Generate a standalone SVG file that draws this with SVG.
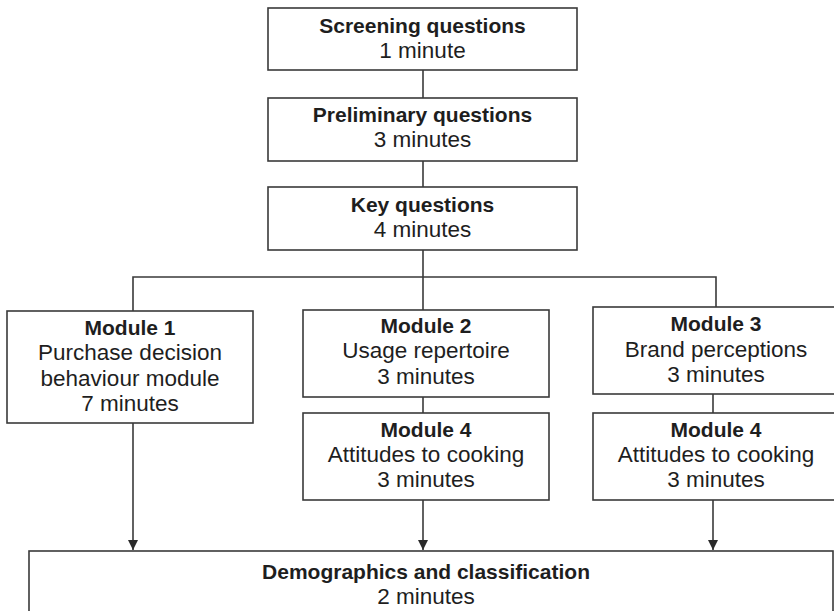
<svg xmlns="http://www.w3.org/2000/svg" width="834" height="611" viewBox="0 0 834 611">
  <defs>
    <style>
      .box { fill: #ffffff; stroke: #3a3a3a; stroke-width: 1.6; }
      .line { fill: none; stroke: #3a3a3a; stroke-width: 1.6; }
      text { font-family: "Liberation Sans", Arial, sans-serif; fill: #1e1e1e; text-anchor: middle; }
      .b { font-weight: bold; font-size: 21px; }
      .r { font-size: 22.5px; }
    </style>
    <marker id="arrow" viewBox="0 0 10 14" refX="10" refY="7" markerWidth="10" markerHeight="14" markerUnits="userSpaceOnUse" orient="auto">
      <path d="M0,2 L10,7 L0,12 Z" fill="#2a2a2a"/>
    </marker>
  </defs>
  <rect width="834" height="611" fill="#ffffff"/>

  <g id="connectors">
    <line class="line" x1="423" y1="70" x2="423" y2="98"/>
    <line class="line" x1="423" y1="161" x2="423" y2="187"/>
    <line class="line" x1="423" y1="250" x2="423" y2="277"/>
    <polyline class="line" points="133,311 133,277 716,277 716,307"/>
    <line class="line" x1="423" y1="277" x2="423" y2="310"/>
    <line class="line" x1="423" y1="397" x2="423" y2="413"/>
    <line class="line" x1="713" y1="394" x2="713" y2="413"/>
    <line class="line" x1="133" y1="423" x2="133" y2="550" marker-end="url(#arrow)"/>
    <line class="line" x1="423" y1="500" x2="423" y2="550" marker-end="url(#arrow)"/>
    <line class="line" x1="713" y1="500" x2="713" y2="550" marker-end="url(#arrow)"/>
  </g>

  <g id="screening">
    <rect class="box" x="268" y="8" width="309" height="62"/>
    <text class="b" x="422.5" y="33">Screening questions</text>
    <text class="r" x="422.5" y="58">1 minute</text>
  </g>
  <g id="preliminary">
    <rect class="box" x="268" y="98" width="309" height="63"/>
    <text class="b" x="422.5" y="122">Preliminary questions</text>
    <text class="r" x="422.5" y="147">3 minutes</text>
  </g>
  <g id="key">
    <rect class="box" x="268" y="187" width="309" height="63"/>
    <text class="b" x="422.5" y="212">Key questions</text>
    <text class="r" x="422.5" y="237">4 minutes</text>
  </g>

  <g id="module1">
    <rect class="box" x="7" y="311" width="246" height="112"/>
    <text class="b" x="130" y="335">Module 1</text>
    <text class="r" x="130" y="360">Purchase decision</text>
    <text class="r" x="130" y="386">behaviour module</text>
    <text class="r" x="130" y="411">7 minutes</text>
  </g>
  <g id="module2">
    <rect class="box" x="303" y="310" width="246" height="87"/>
    <text class="b" x="426" y="333">Module 2</text>
    <text class="r" x="426" y="358">Usage repertoire</text>
    <text class="r" x="426" y="384">3 minutes</text>
  </g>
  <g id="module4a">
    <rect class="box" x="303" y="413" width="246" height="87"/>
    <text class="b" x="426" y="437">Module 4</text>
    <text class="r" x="426" y="462">Attitudes to cooking</text>
    <text class="r" x="426" y="487">3 minutes</text>
  </g>
  <g id="module3">
    <rect class="box" x="593" y="307" width="246" height="87"/>
    <text class="b" x="716" y="331">Module 3</text>
    <text class="r" x="716" y="357">Brand perceptions</text>
    <text class="r" x="716" y="382">3 minutes</text>
  </g>
  <g id="module4b">
    <rect class="box" x="593" y="413" width="246" height="87"/>
    <text class="b" x="716" y="437">Module 4</text>
    <text class="r" x="716" y="462">Attitudes to cooking</text>
    <text class="r" x="716" y="487">3 minutes</text>
  </g>

  <g id="demographics">
    <rect class="box" x="29" y="551" width="804" height="70"/>
    <text class="b" x="426" y="579">Demographics and classification</text>
    <text class="r" x="426" y="604">2 minutes</text>
  </g>
</svg>
